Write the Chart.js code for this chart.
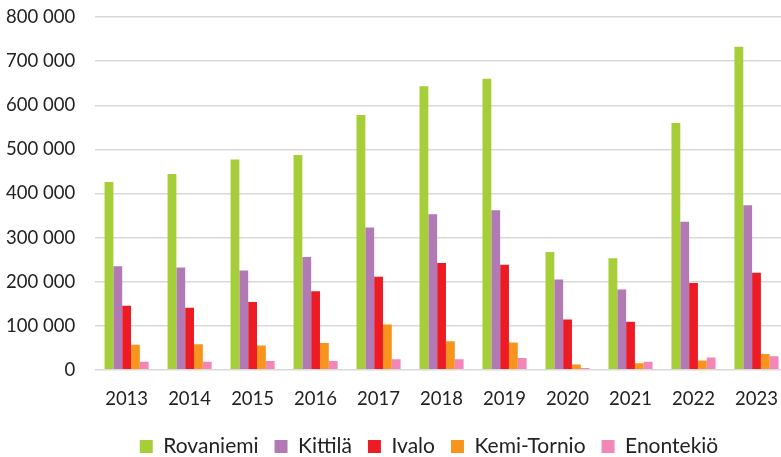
<!DOCTYPE html>
<html>
<head>
<meta charset="utf-8">
<script src="https://cdn.jsdelivr.net/npm/chart.js@4"></script>
<style>
  html, body { margin: 0; padding: 0; background: #fff; overflow: hidden; }
  #wrap { width: 810px; height: 473px; position: absolute; left: -22px; top: -14px; }
</style>
</head>
<body>
<div id="wrap"><canvas id="chart"></canvas></div>
<script>
// Data
const years = ['2013', '2014', '2015', '2016', '2017', '2018', '2019', '2020', '2021', '2022', '2023'];
const rovaniemi = [426000, 444000, 477000, 487000, 578000, 643000, 660000, 267000, 253000, 560000, 733000];
const kittila = [235000, 232000, 225000, 256000, 323000, 353000, 362000, 205000, 182000, 336000, 373000];
const ivalo = [145000, 141000, 154000, 178000, 211000, 242000, 238000, 114000, 109000, 197000, 220000];
const kemiTornio = [57000, 58000, 55000, 61000, 103000, 65000, 62000, 12000, 15000, 21000, 36000];
const enontekio = [18000, 18000, 20000, 20000, 24000, 24000, 27000, 4000, 18000, 28000, 31000];
const yTicks = [0, 100000, 200000, 300000, 400000, 500000, 600000, 700000, 800000];

const fontFamily = 'Lato, "Open Sans", sans-serif';

function series(label, data, color) {
    return {
        label: label,
        data: data,
        backgroundColor: color,
        borderWidth: 0,
        barPercentage: 1.0,
        categoryPercentage: 0.7,
    };
}

// legend in the original sits a bit right of the canvas centre
const legendShift = {
    id: 'legendShift',
    beforeInit(chart) {
        const fit = chart.legend.fit;
        chart.legend.fit = function () {
            fit.call(this);
            this.height -= 6;
        };
    },
    afterLayout(chart) {
        chart.legend.left += 42;
        chart.legend.right += 42;
    },
};

const ctx = document.getElementById('chart').getContext('2d');
new Chart(ctx, {
    type: 'bar',
    data: {
        labels: years,
        datasets: [
            series('Rovaniemi', rovaniemi, '#A6CE39'),
            series('Kittilä', kittila, '#B27AB4'),
            series('Ivalo', ivalo, '#ED1C24'),
            series('Kemi-Tornio', kemiTornio, '#F7941D'),
            series('Enontekiö', enontekio, '#F386B8'),
        ],
    },
    options: {
        responsive: true,
        maintainAspectRatio: false,
        animation: false,
        layout: { padding: { top: 0, left: 8, right: 0, bottom: -2 } },
        plugins: {
            tooltip: { enabled: false },
            legend: {
                position: 'bottom',
                labels: {
                    boxWidth: 13,
                    boxHeight: 13,
                    padding: 16,
                    color: '#222',
                    font: { family: fontFamily, size: 21 },
                },
            },
        },
        scales: {
            x: {
                grid: { display: false },
                border: { display: false },
                ticks: {
                    color: '#222',
                    padding: 10,
                    maxRotation: 0,
                    font: { family: fontFamily, size: 18.5 },
                },
            },
            y: {
                min: 0,
                max: 800000,
                afterBuildTicks: function (axis) {
                    axis.ticks = yTicks.map(function (v) { return { value: v }; });
                },
                border: { display: false },
                grid: { color: '#D9D9D9', lineWidth: 1.5, drawTicks: false },
                ticks: {
                    color: '#222',
                    padding: 20,
                    font: { family: fontFamily, size: 18.5 },
                    callback: function (v) {
                        return String(v).replace(/\B(?=(\d{3})+(?!\d))/g, ' ');
                    },
                },
            },
        },
    },
    plugins: [legendShift],
});
</script>
</body>
</html>
